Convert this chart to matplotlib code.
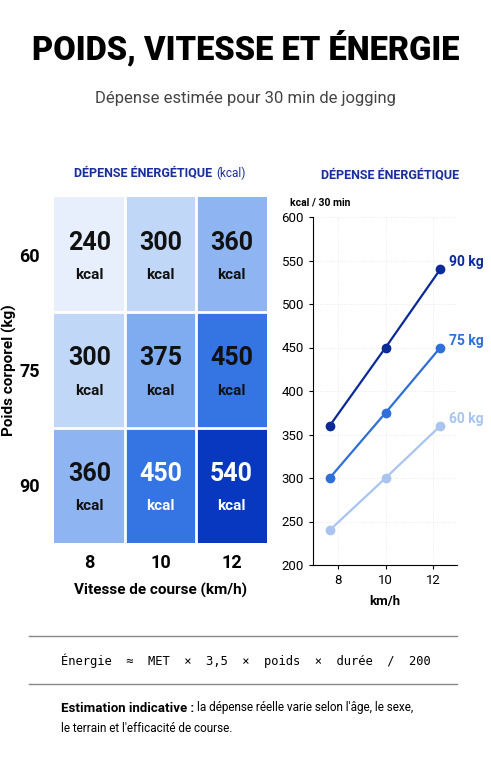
import matplotlib
matplotlib.use("Agg")
import matplotlib.pyplot as plt
import numpy as np
from matplotlib.colors import LinearSegmentedColormap

speeds = [8, 10, 12]
weights = [60, 75, 90]
kcal = [[240, 300, 360], [300, 375, 450], [360, 450, 540]]
line_x = [7.65, 10, 12.3]
series_labels = ["60 kg", "75 kg", "90 kg"]
series_colors = ["#a8c4ef", "#2f6fd9", "#0b2a9a"]
yticks = [200, 250, 300, 350, 400, 450, 500, 550, 600]

plt.rcParams['font.family'] = ['Roboto', 'DejaVu Sans']
W, H = 491, 768
fig = plt.figure(figsize=(W/100, H/100), dpi=100)
fig.patch.set_facecolor('white')

def fx(p): return p / W
def fy(p): return 1 - p / H

fig.text(0.5, fy(48), "POIDS, VITESSE ET ÉNERGIE", ha='center', va='center',
         fontsize=23.5, fontweight='black', color='black')
fig.text(0.5, fy(99), "Dépense estimée pour 30 min de jogging", ha='center', va='center',
         fontsize=12, color='#444444')

# heatmap
ax = fig.add_axes([fx(54), fy(543), fx(267-54), (543-197)/H])
cmap = LinearSegmentedColormap.from_list('b', ['#eef4fe', '#a9c8f6', '#3a7be8', '#0535bd'])
arr = np.array(kcal)
ax.imshow(arr, cmap=cmap, vmin=230, vmax=545, aspect='auto')
for i in range(3):
    for j in range(3):
        v = arr[i, j]
        c = 'white' if v >= 450 and i == 2 else '#111111'
        ax.text(j, i - 0.1, str(v), ha='center', va='center', fontsize=18, fontweight='bold', color=c)
        ax.text(j, i + 0.18, "kcal", ha='center', va='center', fontsize=11, fontweight='bold', color=c)
for k in [0.5, 1.5]:
    ax.axvline(k, color='white', lw=2)
    ax.axhline(k, color='white', lw=2)
ax.set_xticks(range(3), [str(s) for s in speeds], fontsize=13, fontweight='bold')
ax.set_yticks(range(3), [str(w) for w in weights], fontsize=13, fontweight='bold')
ax.tick_params(length=0, pad=8)
ax.tick_params(axis='y', pad=10)
for s in ax.spines.values(): s.set_visible(False)
ax.set_xlabel("Vitesse de course (km/h)", fontsize=11, fontweight='bold', labelpad=8)
ax.set_ylabel("Poids corporel (kg)", fontsize=11, fontweight='bold', labelpad=2)
fig.text(fx(212), fy(173), "DÉPENSE ÉNERGÉTIQUE", ha='right', va='center', fontsize=9,
         fontweight='bold', color='#1a2f9e')
fig.text(fx(216), fy(173), "(kcal)", ha='left', va='center', fontsize=8.5, color='#1a2f9e')

# line chart
ax2 = fig.add_axes([fx(313), fy(565), fx(457-313), (565-217)/H])
for vals, lab, col in zip(kcal, series_labels, series_colors):
    ax2.plot(line_x, vals, color=col, lw=1.6, marker='o', ms=6)
    ax2.text(line_x[-1] + 0.35, vals[-1] + 8, lab, color=col, fontsize=10, fontweight='bold', va='center')
ax2.set_xlim(6.95, 13.0)
ax2.set_ylim(200, 600)
ax2.set_yticks(yticks)
ax2.set_xticks(speeds)
ax2.tick_params(labelsize=9.5, length=3)
ax2.grid(True, color='#e6e6e6', lw=0.6, ls=':')
ax2.spines['top'].set_visible(False)
ax2.spines['right'].set_visible(False)
ax2.set_xlabel("km/h", fontsize=9.5, fontweight='bold', labelpad=6)
fig.text(fx(390), fy(175), "DÉPENSE ÉNERGÉTIQUE", ha='center', va='center', fontsize=9,
         fontweight='bold', color='#1a2f9e')
fig.text(fx(290), fy(202), "kcal / 30 min", ha='left', va='center', fontsize=7.5, fontweight='bold')

# footer
fig.add_artist(plt.Line2D([fx(29), fx(457)], [fy(636), fy(636)], color='#888888', lw=1))
fig.add_artist(plt.Line2D([fx(29), fx(457)], [fy(684), fy(684)], color='#888888', lw=1))
fig.text(fx(61), fy(661), "Énergie  ≈  MET  ×  3,5  ×  poids  ×  durée  /  200", ha='left', va='center',
         fontsize=8.7, family='DejaVu Sans Mono')
fig.text(fx(61), fy(708), "Estimation indicative :", ha='left', va='center', fontsize=9.5, fontweight='bold')
fig.text(fx(197), fy(708), "la dépense réelle varie selon l'âge, le sexe,", ha='left', va='center', fontsize=8.5)
fig.text(fx(61), fy(728), "le terrain et l'efficacité de course.", ha='left', va='center', fontsize=8.5)

fig.savefig("out.png", dpi=100)
